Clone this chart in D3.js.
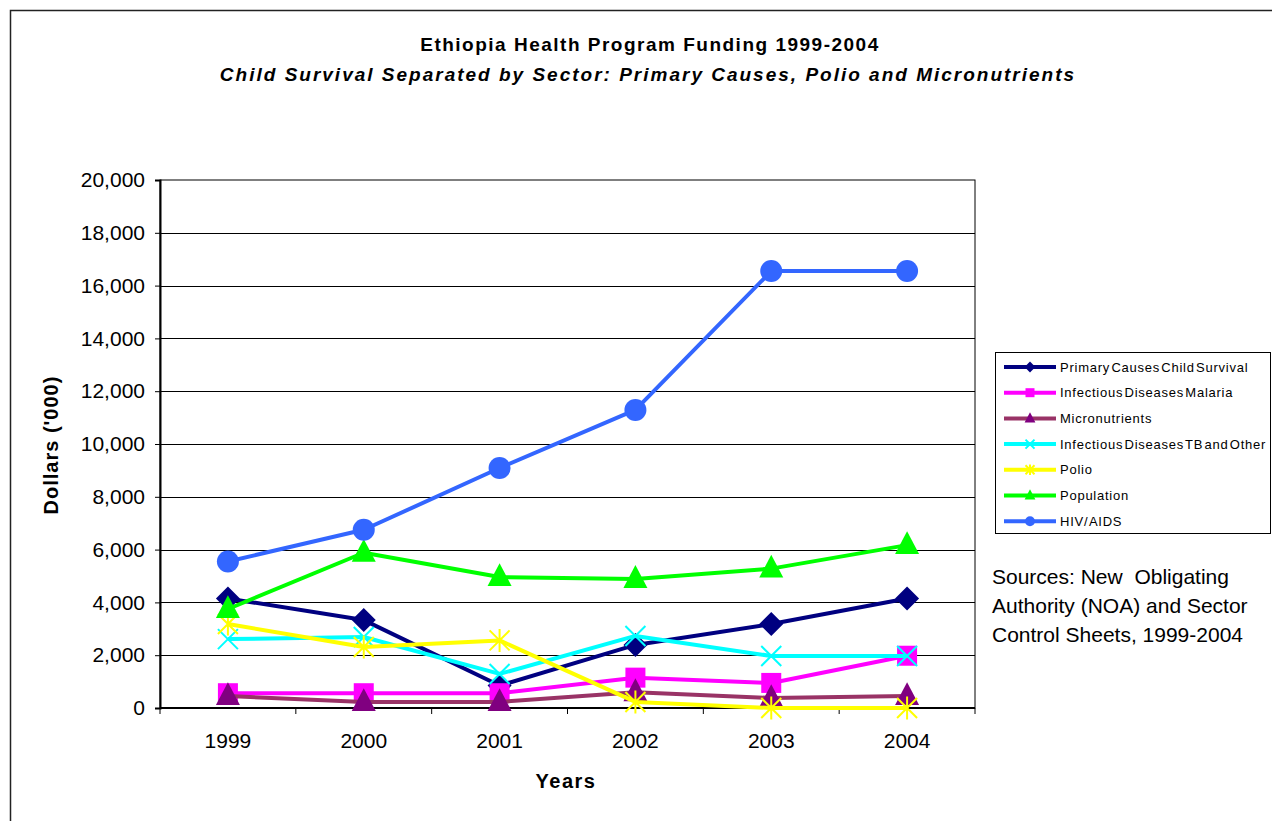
<!DOCTYPE html>
<html>
<head>
<meta charset="utf-8">
<script src="https://cdn.jsdelivr.net/npm/d3@7"></script>
<style>
  html, body { margin: 0; padding: 0; background: #fff; }
  svg { display: block; font-family: Arial, "Liberation Sans", sans-serif; }
</style>
</head>
<body>
<svg id="chart" width="1272" height="821"></svg>
<script>
// Funding by sector, dollars in thousands
const years = ["1999", "2000", "2001", "2002", "2003", "2004"];
const primaryCauses = [4150, 3330, 850, 2390, 3180, 4150];
const malaria = [560, 560, 560, 1150, 950, 1980];
const micronutrients = [450, 230, 230, 600, 380, 450];
const tbOther = [2610, 2690, 1290, 2730, 1970, 1970];
const polio = [3180, 2310, 2560, 230, 0, 0];
const population = [3750, 5880, 4960, 4890, 5280, 6170];
const hivAids = [5550, 6750, 9090, 11290, 16550, 16550];
const yTicks = [0, 2000, 4000, 6000, 8000, 10000, 12000, 14000, 16000, 18000, 20000];

const series = [
  { name: "Primary Causes Child Survival", values: primaryCauses, line: "#000080", fill: "#000080", marker: "diamond" },
  { name: "Infectious Diseases Malaria", values: malaria, line: "#ff00ff", fill: "#ff00ff", marker: "square" },
  { name: "Micronutrients", values: micronutrients, line: "#993366", fill: "#800080", marker: "triangle" },
  { name: "Infectious Diseases TB and Other", values: tbOther, line: "#00ffff", fill: "#00ffff", marker: "x" },
  { name: "Polio", values: polio, line: "#ffff00", fill: "#ffff00", marker: "star" },
  { name: "Population", values: population, line: "#00ff00", fill: "#00ff00", marker: "triangle" },
  { name: "HIV/ AIDS", values: hivAids, line: "#3366ff", fill: "#3366ff", marker: "circle" }
];

const svg = d3.select("#chart");
const plot = { left: 160, right: 975, top: 180, bottom: 708 };

// Outer chart frame
svg.append("rect").attr("x", 10.5).attr("y", 10.5).attr("width", 1290).attr("height", 840)
  .attr("fill", "#fff").attr("stroke", "#222").attr("stroke-width", 1.5);

// Titles
svg.append("text").attr("x", 650).attr("y", 51).attr("text-anchor", "middle")
  .attr("font-size", 19).attr("font-weight", "bold").attr("letter-spacing", 1.5)
  .text("Ethiopia Health Program Funding 1999-2004");
svg.append("text").attr("x", 648).attr("y", 81).attr("text-anchor", "middle")
  .attr("font-size", 19).attr("font-weight", "bold").attr("font-style", "italic").attr("letter-spacing", 2)
  .text("Child Survival Separated by Sector: Primary Causes, Polio and Micronutrients");

const x = d3.scaleBand().domain(years).range([plot.left, plot.right]);
const y = d3.scaleLinear().domain([0, 20000]).range([plot.bottom, plot.top]);

// Plot area background and gridlines
svg.append("rect").attr("x", plot.left).attr("y", plot.top)
  .attr("width", plot.right - plot.left).attr("height", plot.bottom - plot.top)
  .attr("fill", "#fff").attr("stroke", "#000").attr("stroke-width", 1);

svg.append("g").selectAll("line").data(yTicks.filter(d => d > 0 && d < 20000)).join("line")
  .attr("x1", plot.left).attr("x2", plot.right)
  .attr("y1", d => Math.round(y(d)) + 0.5).attr("y2", d => Math.round(y(d)) + 0.5)
  .attr("stroke", "#000").attr("stroke-width", 1);

// Y axis
const yAxis = d3.axisLeft(y).tickValues(yTicks).tickSize(5).tickPadding(10)
  .tickFormat(d3.format(","));
const gy = svg.append("g").attr("transform", `translate(${plot.left},0)`).call(yAxis);
gy.select(".domain").attr("stroke", "#000").attr("stroke-width", 2);
gy.selectAll("text").attr("font-size", 21).attr("font-family", "Arial, 'Liberation Sans', sans-serif").attr("fill", "#000");

// X axis with ticks on category boundaries
const gx = svg.append("g").attr("transform", `translate(0,${plot.bottom})`);
gx.append("line").attr("x1", plot.left).attr("x2", plot.right).attr("stroke", "#000").attr("stroke-width", 2);
const bounds = years.map(d => x(d)).concat([plot.right]);
gx.selectAll("line.tick").data(bounds).join("line").attr("class", "tick")
  .attr("x1", d => d).attr("x2", d => d).attr("y1", 0).attr("y2", 6).attr("stroke", "#000");
gx.selectAll("text").data(years).join("text")
  .attr("x", d => x(d) + x.bandwidth() / 2).attr("y", 40)
  .attr("text-anchor", "middle").attr("font-size", 21).text(d => d);

// Axis titles
svg.append("text").attr("x", 566).attr("y", 788).attr("text-anchor", "middle")
  .attr("font-size", 20).attr("font-weight", "bold").attr("letter-spacing", 1.5).text("Years");
svg.append("text").attr("transform", "translate(58,445) rotate(-90)").attr("text-anchor", "middle")
  .attr("font-size", 20).attr("font-weight", "bold").attr("letter-spacing", 1).text("Dollars ('000)");

// Marker shapes
function drawMarker(g, type, size, fill) {
  if (type === "circle") {
    g.append("circle").attr("r", size * 0.55).attr("fill", fill);
  } else if (type === "square") {
    const s = size * 1.0;
    g.append("rect").attr("x", -s / 2).attr("y", -s / 2).attr("width", s).attr("height", s).attr("fill", fill);
  } else if (type === "diamond") {
    const s = size * 0.6;
    g.append("path").attr("d", `M0,${-s}L${s},0L0,${s}L${-s},0Z`).attr("fill", fill);
  } else if (type === "triangle") {
    const s = size * 0.6;
    g.append("path").attr("d", `M0,${-s * 1.15}L${s},${s * 0.75}L${-s},${s * 0.75}Z`).attr("fill", fill);
  } else if (type === "x") {
    const s = size * 0.5;
    g.append("path").attr("d", `M${-s},${-s}L${s},${s}M${-s},${s}L${s},${-s}`)
      .attr("stroke", fill).attr("stroke-width", 2).attr("fill", "none");
  } else if (type === "star") {
    const s = size * 0.5;
    g.append("path").attr("d", `M${-s},${-s}L${s},${s}M${-s},${s}L${s},${-s}M0,${-s * 1.15}L0,${s * 1.15}`)
      .attr("stroke", fill).attr("stroke-width", 2).attr("fill", "none");
  }
}

const line = d3.line().x((d, i) => x(years[i]) + x.bandwidth() / 2).y(d => y(d));

// Series lines and markers
series.forEach(s => {
  const g = svg.append("g");
  g.append("path").attr("d", line(s.values)).attr("fill", "none")
    .attr("stroke", s.line).attr("stroke-width", 4).attr("stroke-linejoin", "round");
  s.values.forEach((v, i) => {
    const m = g.append("g").attr("transform", `translate(${x(years[i]) + x.bandwidth() / 2},${y(v)})`);
    drawMarker(m, s.marker, 20, s.fill);
  });
});

// Legend
const lg = svg.append("g").attr("transform", "translate(995,352)");
lg.append("rect").attr("x", 0.5).attr("y", 0.5).attr("width", 275).attr("height", 181)
  .attr("fill", "#fff").attr("stroke", "#000").attr("stroke-width", 1);
series.forEach((s, i) => {
  const cy = 15 + i * 25.7;
  const row = lg.append("g").attr("transform", `translate(0,${cy})`);
  row.append("line").attr("x1", 9).attr("x2", 61).attr("y1", 0).attr("y2", 0)
    .attr("stroke", s.line).attr("stroke-width", 4);
  const m = row.append("g").attr("transform", "translate(35,0)");
  drawMarker(m, s.marker, 9, s.fill);
  row.append("text").attr("x", 65).attr("y", 4.5).attr("font-size", 13).attr("fill", "#000")
    .attr("letter-spacing", 0.75).attr("word-spacing", -3).text(s.name);
});

// Source note
const src = ["Sources: New  Obligating", "Authority (NOA) and Sector", "Control Sheets, 1999-2004"];
svg.append("g").selectAll("text").data(src).join("text")
  .attr("x", 992).attr("y", (d, i) => 584 + i * 29).attr("font-size", 21).attr("fill", "#000")
  .attr("xml:space", "preserve").style("white-space", "pre").text(d => d);
</script>
</body>
</html>
